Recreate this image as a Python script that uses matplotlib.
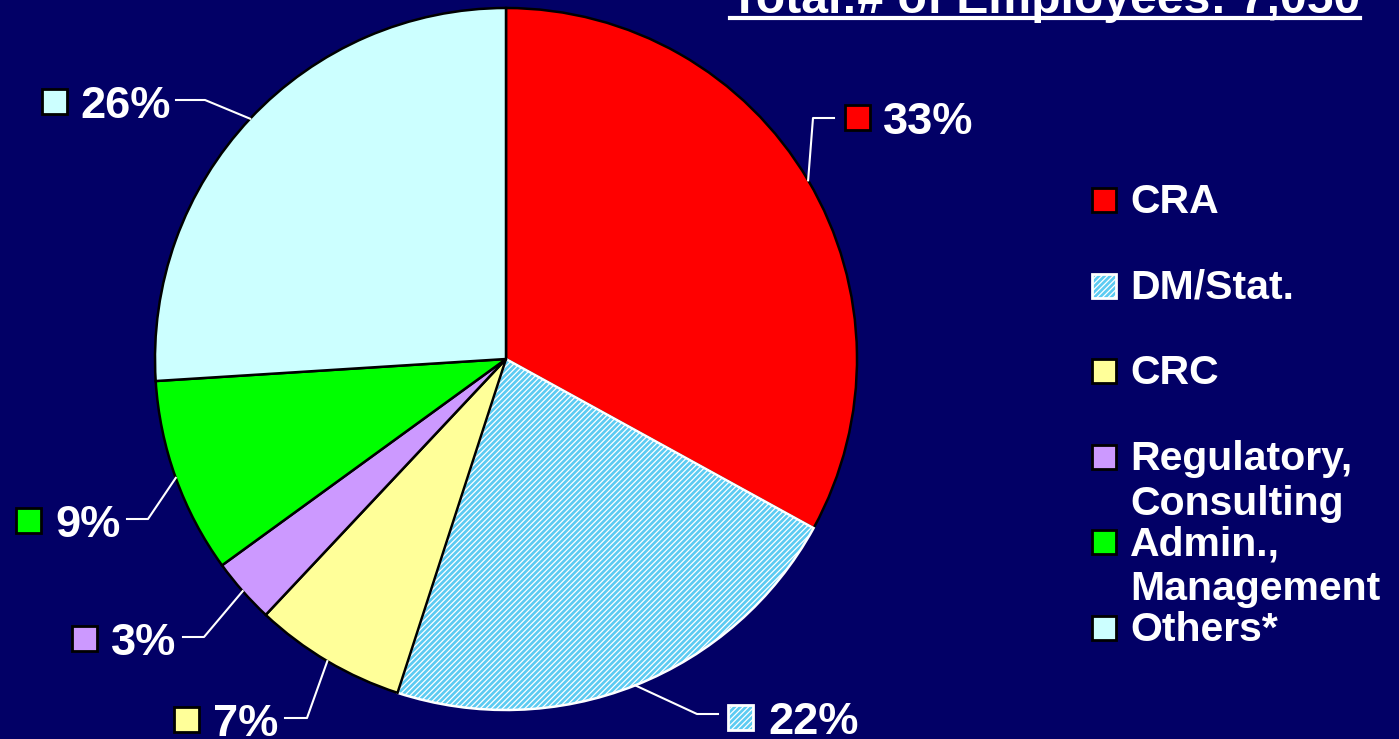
import matplotlib
matplotlib.use("Agg")
import numpy as np
import matplotlib.pyplot as plt
from matplotlib.patches import Rectangle
from matplotlib.lines import Line2D

# data
categories = ["CRA", "DM/Stat.", "CRC", "Regulatory,\nConsulting", "Admin.,\nManagement", "Others*"]
shares = [33, 22, 7, 3, 9, 26]
colors = ["#FF0000", "#5CCBF2", "#FFFF99", "#CC99FF", "#00FF00", "#CCFFFF"]
hatches = [None, "//////", None, None, None, None]
title = "Total:# of Employees: 7,050"

# layout (pixels, from the top-left of the picture)
W, H = 1399, 739
BG = "#020066"
FONT = "Liberation Sans"
# elbow of each leader, end of its horizontal stub, square left, text left, baseline
elbows = [(813, 118), (697, 714), (307, 718), (204, 637), (148, 519), (205, 100)]
stub_ends = [834, 718, 285, 183, 127, 176]
square_x = [845, 728, 174, 72, 16, 42]
text_x = [883, 768, 213, 111, 55, 80]
baselines = [134, 734, 736, 655, 537, 118]

plt.rcParams["hatch.linewidth"] = 0.9

fig = plt.figure(figsize=(W / 100, H / 100), dpi=100, facecolor=BG)
cx, cy, r = 506, 359, 351
ax = fig.add_axes([(cx - r) / W, 1 - (cy + r) / H, 2 * r / W, 2 * r / H])
ax.set_facecolor(BG)

wedges, _ = ax.pie(shares, colors=colors, startangle=90, counterclock=False,
                   wedgeprops=dict(edgecolor="black", linewidth=1.8))
for w, h in zip(wedges, hatches):
    if h:
        w.set_hatch(h)
        w.set_edgecolor("white")
ax.set_xlim(-1, 1)
ax.set_ylim(-1, 1)
ax.set_aspect("equal")
ax.axis("off")


def to_data(px, py):
    return (px - cx) / r, (cy - py) / r


def to_fig(px, py):
    return px / W, 1 - py / H


def square(px, py, size, color, hatch=None):
    x0, y0 = to_fig(px, py + size)
    rect = Rectangle((x0, y0), size / W, size / H, transform=fig.transFigure,
                     facecolor=color, edgecolor="black", linewidth=2,
                     hatch=hatch)
    if hatch:
        rect.set_edgecolor("white")
    fig.add_artist(rect)


# percentage labels with leader lines
for i, w in enumerate(wedges):
    mid = np.deg2rad((w.theta1 + w.theta2) / 2)
    ex, ey = elbows[i]
    x1, y1 = to_data(ex, ey)
    x2, _ = to_data(stub_ends[i], ey)
    ax.add_line(Line2D([np.cos(mid), x1, x2], [np.sin(mid), y1, y1],
                       color="white", linewidth=1.5, clip_on=False))
    square(square_x[i], baselines[i] - 29, 25, colors[i], hatches[i])
    fx, fy = to_fig(text_x[i], baselines[i])
    fig.text(fx, fy, f"{shares[i]}%", color="white", fontsize=32.5,
             fontweight="bold", family=FONT, va="baseline", ha="left")

# legend
for i, name in enumerate(categories):
    yc = 200 + i * 85.6
    square(1092, yc - 12, 24, colors[i], hatches[i])
    for k, line in enumerate(name.split("\n")):
        fx, fy = to_fig(1130, yc + 13 + k * 45)
        fig.text(fx, fy, line, color="white", fontsize=29.5, fontweight="bold",
                 family=FONT, va="baseline", ha="left")

# title, underlined, cut by the top edge
t = fig.text(*to_fig(730, 13), title, color="white", fontsize=34.7,
             fontweight="bold", family=FONT, va="baseline", ha="left")
fig.canvas.draw()
bb = t.get_window_extent()
inv = fig.transFigure.inverted()
(ux0, uy), (ux1, _) = inv.transform([(bb.x0, H - 18), (bb.x1, H - 18)])
fig.add_artist(Line2D([ux0, ux1], [uy, uy], transform=fig.transFigure,
                      color="white", linewidth=3))

fig.savefig("out.png", dpi=100, facecolor=BG)
